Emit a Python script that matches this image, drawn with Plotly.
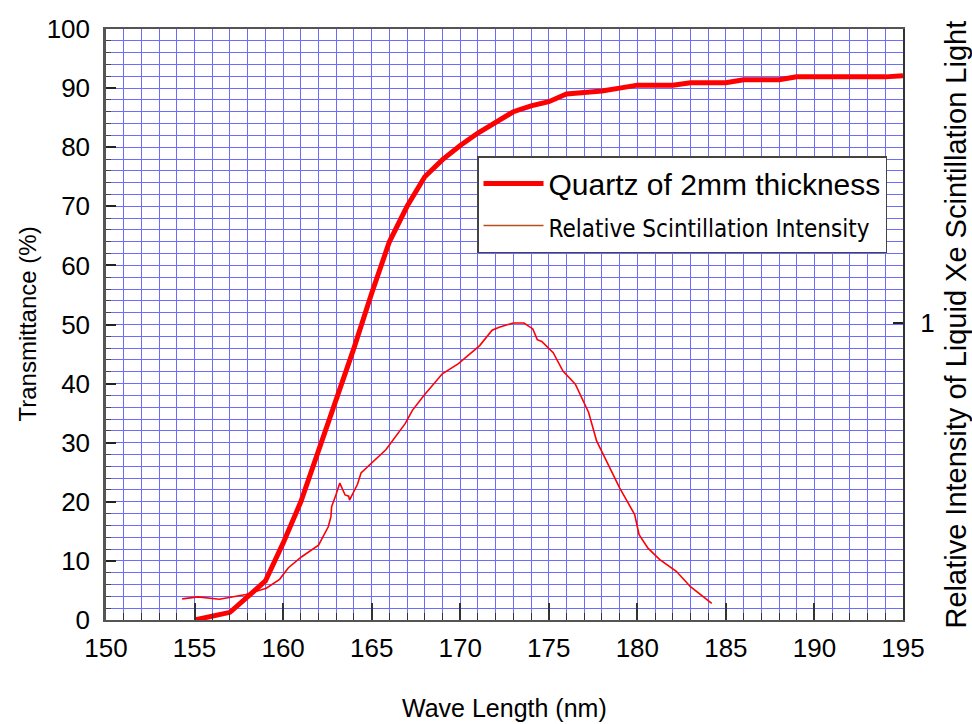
import plotly.graph_objects as go

# Transmittance of 2 mm quartz (%)
wl_quartz = [155, 157, 159, 160, 161, 162, 163, 164, 165, 166, 167, 168, 169, 170,
             171, 172, 173, 174, 175, 176, 178, 179, 180, 182, 183, 185, 186, 188,
             189, 194, 195]
trans_quartz = [0.0, 1.3, 6.6, 13.0, 20.0, 28.5, 37.0, 46.0, 55.3, 64.0, 70.0, 75.0,
                77.9, 80.3, 82.4, 84.3, 86.0, 87.0, 87.7, 89.0, 89.5, 90.0, 90.5, 90.5,
                90.9, 90.9, 91.4, 91.4, 91.9, 91.9, 92.1]

# Relative scintillation intensity of liquid Xe (peak = 1)
wl_scint = [154.3, 155.2, 156.4, 157.9, 159.05, 159.8, 160.3, 161.05, 162.0, 162.55,
            162.7, 162.74, 162.98, 163.2, 163.5, 163.7, 163.75, 164.2, 164.4, 165.8,
            166.9, 167.3, 167.96, 168.99, 169.9, 171.1, 171.8, 172.2, 172.65, 173.0,
            173.6, 174.1, 174.35, 174.6, 175.25, 175.8, 176.5, 177.25, 177.7, 179.0,
            179.85, 180.1, 180.6, 181.25, 182.2, 183.0, 184.2]
rel_scint = [0.071, 0.078, 0.070, 0.086, 0.107, 0.137, 0.176, 0.213, 0.252, 0.314,
             0.348, 0.382, 0.421, 0.461, 0.421, 0.417, 0.404, 0.457, 0.495, 0.573,
             0.662, 0.706, 0.757, 0.829, 0.863, 0.924, 0.976, 0.986, 0.994, 1.0,
             1.0, 0.980, 0.944, 0.938, 0.900, 0.838, 0.794, 0.699, 0.603, 0.445,
             0.355, 0.287, 0.242, 0.204, 0.164, 0.112, 0.056]

x_ticks = [150, 155, 160, 165, 170, 175, 180, 185, 190, 195]
y_ticks = [0, 10, 20, 30, 40, 50, 60, 70, 80, 90, 100]
y2_ticks = [1]

GRID = "rgb(108,108,255)"
AXIS = "#555555"
TICKFONT = dict(family="Liberation Sans, Arial", size=26, color="black")

fig = go.Figure()

fig.add_trace(go.Scatter(
    x=wl_quartz, y=trans_quartz, mode="lines", name="Quartz of 2mm thickness",
    line=dict(color="#ff0000", width=5), showlegend=True))

fig.add_trace(go.Scatter(
    x=wl_scint, y=rel_scint, mode="lines", yaxis="y2",
    line=dict(color="#ff0000", width=1.6), showlegend=False,
    name="Relative Scintillation Intensity"))

# legend entry with the legend's own swatch colour
fig.add_trace(go.Scatter(
    x=[None], y=[None], mode="lines", yaxis="y2",
    name='<span style="font-family:DejaVu Sans Condensed, Liberation Sans;font-size:24px">Relative Scintillation Intensity</span>',
    line=dict(color="#b5501c", width=1.5), showlegend=True))

fig.update_layout(
    width=972, height=724,
    margin=dict(l=106, r=69, t=29, b=104),
    paper_bgcolor="white", plot_bgcolor="white",
    font=dict(family="Liberation Sans, Arial", color="black"),
    xaxis=dict(
        range=[150, 195], tickvals=x_ticks, ticktext=[str(v) for v in x_ticks],
        showgrid=True, gridcolor=GRID, gridwidth=1.3,
        ticks="inside", ticklen=17, tickwidth=1.5, tickcolor="#333333",
        showline=True, linecolor=AXIS, linewidth=2, mirror=True,
        tickfont=TICKFONT, zeroline=False, ticklabelstandoff=4,
        minor=dict(dtick=1, tick0=150, showgrid=True, gridcolor=GRID, gridwidth=1.3,
                   ticks="inside", ticklen=7, tickcolor="#333333", tickwidth=1.2),
    ),
    yaxis=dict(
        range=[0, 100], tickvals=y_ticks, ticktext=[str(v) for v in y_ticks],
        showgrid=True, gridcolor=GRID, gridwidth=1.3,
        ticks="inside", ticklen=10, tickwidth=1.5, tickcolor="#222222",
        showline=True, linecolor=AXIS, linewidth=2.5,
        tickfont=TICKFONT, zeroline=False, ticklabelstandoff=8,
        minor=dict(dtick=2, tick0=0, showgrid=True, gridcolor=GRID, gridwidth=1.3,
                   ticks="inside", ticklen=5, tickcolor="#444444", tickwidth=1.2),
    ),
    yaxis2=dict(
        range=[0, 1.99], overlaying="y", side="right",
        tickvals=y2_ticks, ticktext=["1"],
        ticks="inside", ticklen=10, tickwidth=1.5, tickcolor="#222222",
        showline=True, linecolor="#333333", linewidth=2,
        showgrid=False, zeroline=False, tickfont=TICKFONT, ticklabelstandoff=10,
    ),
    legend=dict(
        x=0.4655, y=0.785, xanchor="left", yanchor="top",
        bgcolor="white", bordercolor="#444444", borderwidth=1.5,
        font=dict(family="Liberation Sans, Arial", size=30, color="black"),
        tracegroupgap=0, itemwidth=60,
    ),
    annotations=[
        dict(text="Wave Length (nm)", xref="paper", yref="paper", x=0.5, y=0,
             xanchor="center", yanchor="middle", yshift=-88, showarrow=False,
             font=dict(size=25, family="Liberation Sans, Arial")),
        dict(text="Transmittance (%)", xref="paper", yref="paper", x=0, y=0.5,
             xanchor="center", yanchor="middle", xshift=-79, textangle=-90,
             showarrow=False, font=dict(size=24, family="Liberation Sans, Arial")),
        dict(text="Relative Intensity of Liquid Xe Scintillation Light", xref="paper",
             yref="paper", x=1, y=0.5, xanchor="center", yanchor="middle", xshift=52,
             textangle=-90, showarrow=False,
             font=dict(size=29, family="Liberation Sans, Arial")),
    ],
)

fig.write_html("out.html")
